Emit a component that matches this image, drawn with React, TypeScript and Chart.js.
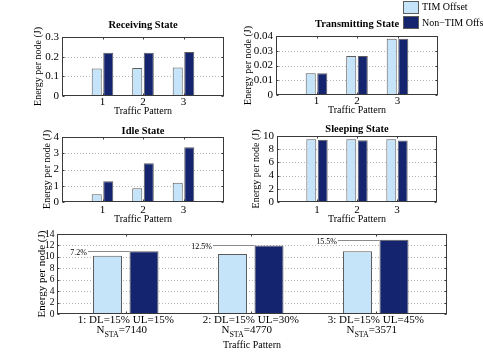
import React, { useEffect, useRef } from "react";
import { Chart, registerables } from "chart.js";
Chart.register(...registerables);

const PATTERNS = [1, 2, 3];
const SERIES = ["TIM Offset", "Non\u2212TIM Offset"];
const RECV_TIM = [0.14, 0.142, 0.145];
const RECV_NON = [0.22, 0.22, 0.224];
const TX_TIM = [0.0148, 0.0265, 0.0382];
const TX_NON = [0.0148, 0.0264, 0.0381];
const IDLE_TIM = [0.47, 0.84, 1.18];
const IDLE_NON = [1.28, 2.39, 3.37];
const SLEEP_TIM = [9.52, 9.52, 9.52];
const SLEEP_NON = [9.45, 9.36, 9.3];
const TOTAL_TIM = [10.2, 10.5, 10.98];
const TOTAL_NON = [11.0, 12.0, 13.0];
const SAVINGS = ["7.2%", "12.5%", "15.5%"];
const TOTAL_LINE1 = ["1: DL=15% UL=15%", "2: DL=15% UL=30%", "3: DL=15% UL=45%"];
const N_STA = ["7140", "4770", "3571"];

const W = 483;
const H = 355;
const FAMILY = "'Liberation Serif', 'Times New Roman', serif";
const LIGHT = "#c6e4f9";
const DARK = "#14246e";
const EDGE = "#5c5c5c";
const AXIS = "#3a3a3a";

type Panel = {
  key: string;
  title: string;
  tim: number[];
  non: number[];
  yMax: number;
  yStep: number;
  box: { l: number; r: number; t: number; b: number };
  ylabelX: number;
  titleY?: number;
  xMin: number;
  xMax: number;
  cp: number;
  bp: number;
  xAxisH: number;
  xTickPad: number;
  xTitlePadB: number;
  showXTicks: boolean;
  yTickSize: number;
  yTitleSize: number;
  yTickPad: number;
  legend?: boolean;
  annotate?: boolean;
};

const SMALL = { xMin: 0, xMax: 4, cp: 0.57, bp: 0.87, showXTicks: true, xTitlePadB: 0, yTickSize: 11, yTitleSize: 10, yTickPad: 3 };

const PANELS: Panel[] = [
  { key: "recv", title: "Receiving State", tim: RECV_TIM, non: RECV_NON, yMax: 0.3, yStep: 0.1,
    box: { l: 62, r: 224, t: 37, b: 96 }, ylabelX: 38, titleY: 25.5, xAxisH: 21, xTickPad: 0, ...SMALL },
  { key: "tx", title: "Transmitting State", tim: TX_TIM, non: TX_NON, yMax: 0.04, yStep: 0.01,
    box: { l: 276, r: 438, t: 36, b: 95 }, ylabelX: 248.5, titleY: 24.5, xAxisH: 21, xTickPad: 0, legend: true, ...SMALL },
  { key: "idle", title: "Idle State", tim: IDLE_TIM, non: IDLE_NON, yMax: 4, yStep: 1,
    box: { l: 62, r: 224, t: 137, b: 202 }, ylabelX: 47.5, titleY: 131, xAxisH: 23, xTickPad: 1.5, ...SMALL },
  { key: "sleep", title: "Sleeping State", tim: SLEEP_TIM, non: SLEEP_NON, yMax: 10, yStep: 2,
    box: { l: 277, r: 437, t: 136, b: 202 }, ylabelX: 256.5, titleY: 129.5, xAxisH: 23, xTickPad: 1.5, ...SMALL },
  { key: "total", title: "", tim: TOTAL_TIM, non: TOTAL_NON, yMax: 14, yStep: 2,
    box: { l: 57, r: 447, t: 234, b: 314 }, ylabelX: 42.5, xMin: 0.45, xMax: 3.57, cp: 0.584, bp: 0.795,
    xAxisH: 41, xTickPad: 0, xTitlePadB: 4, showXTicks: false, yTickSize: 9.5, yTitleSize: 11, yTickPad: 2.5,
    annotate: true },
];

function framePlugin(p: Panel) {
  return {
    id: "frame_" + p.key,
    beforeDatasetsDraw(chart: any) {
      const { ctx, chartArea: a, scales } = chart;
      const y = scales.y;
      ctx.save();
      ctx.strokeStyle = "#b4b4b4";
      ctx.lineWidth = 1;
      ctx.setLineDash([1, 2]);
      y.ticks.forEach((t: any) => {
        if (t.value < 1e-9 || t.value > p.yMax - 1e-9) return;
        const py = Math.round(y.getPixelForValue(t.value)) + 0.5;
        ctx.beginPath();
        ctx.moveTo(a.left, py);
        ctx.lineTo(a.right, py);
        ctx.stroke();
      });
      ctx.restore();
    },
    afterDatasetsDraw(chart: any) {
      const { ctx, chartArea: a, scales } = chart;
      const x = scales.x;
      const y = scales.y;
      const L = Math.round(a.left) + 0.5;
      const R = Math.round(a.right) - 0.5;
      const T = Math.round(a.top) + 0.5;
      const B = Math.round(a.bottom) - 0.5;
      ctx.save();
      if (p.annotate) {
        const m0 = chart.getDatasetMeta(0);
        const m1 = chart.getDatasetMeta(1);
        ctx.font = `8px ${FAMILY}`;
        ctx.fillStyle = "#000";
        ctx.textAlign = "right";
        ctx.textBaseline = "middle";
        PATTERNS.forEach((_, i) => {
          const lb = m0.data[i];
          const db = m1.data[i];
          const lightLeft = lb.x - lb.width / 2;
          const darkLeft = db.x - db.width / 2;
          const yy = Math.round(db.y) + 0.5;
          const tx = lightLeft - 6;
          ctx.fillText(SAVINGS[i], tx, yy + 1);
          ctx.strokeStyle = "#8a8a8a";
          ctx.lineWidth = 1;
          ctx.beginPath();
          ctx.moveTo(tx + 1, yy);
          ctx.lineTo(darkLeft, yy);
          ctx.stroke();
        });
      }
      ctx.strokeStyle = AXIS;
      ctx.lineWidth = 1;
      ctx.strokeRect(L, T, R - L, B - T);
      ctx.beginPath();
      y.ticks.forEach((t: any) => {
        const py = Math.round(y.getPixelForValue(t.value)) + 0.5;
        ctx.moveTo(L, py); ctx.lineTo(L + 2, py);
        ctx.moveTo(R, py); ctx.lineTo(R - 2, py);
      });
      PATTERNS.forEach((v) => {
        const px = Math.round(x.getPixelForValue(v)) + 0.5;
        ctx.moveTo(px, B); ctx.lineTo(px, B - 2);
        ctx.moveTo(px, T); ctx.lineTo(px, T + 2);
      });
      ctx.stroke();
      ctx.restore();
    },
    afterDraw(chart: any) {
      const { ctx, chartArea: a, scales } = chart;
      const x = scales.x;
      ctx.save();
      ctx.fillStyle = "#000";
      if (p.title) {
        ctx.font = `bold 10.5px ${FAMILY}`;
        ctx.textAlign = "center";
        ctx.textBaseline = "middle";
        ctx.fillText(p.title, (a.left + a.right) / 2, p.titleY as number);
      }
      if (p.legend) {
        ctx.lineWidth = 1;
        ctx.strokeStyle = EDGE;
        ctx.fillStyle = LIGHT;
        ctx.fillRect(403.5, 1.5, 15, 12);
        ctx.strokeRect(403.5, 1.5, 15, 12);
        ctx.fillStyle = DARK;
        ctx.fillRect(403.5, 16.5, 15, 12);
        ctx.strokeRect(403.5, 16.5, 15, 12);
        ctx.fillStyle = "#000";
        ctx.font = `10px ${FAMILY}`;
        ctx.textAlign = "left";
        ctx.textBaseline = "middle";
        ctx.fillText(SERIES[0], 422, 7.5);
        ctx.fillText(SERIES[1], 422, 23);
      }
      if (p.annotate) {
        const b = a.bottom;
        PATTERNS.forEach((v, i) => {
          const cx = x.getPixelForValue(v);
          ctx.font = `11px ${FAMILY}`;
          ctx.textAlign = "center";
          ctx.textBaseline = "alphabetic";
          ctx.fillText(TOTAL_LINE1[i], cx, b + 9);
          ctx.textAlign = "left";
          const f11 = `11px ${FAMILY}`;
          const f8 = `8px ${FAMILY}`;
          ctx.font = f11;
          const wN = ctx.measureText("N").width;
          const rest = "=" + N_STA[i];
          const wR = ctx.measureText(rest).width;
          ctx.font = f8;
          const wS = ctx.measureText("STA").width;
          const total = wN + wS + wR;
          let sx = cx - 4 - total / 2;
          ctx.font = f11;
          ctx.fillText("N", sx, b + 19);
          sx += wN;
          ctx.font = f8;
          ctx.fillText("STA", sx, b + 23);
          sx += wS;
          ctx.font = f11;
          ctx.fillText(rest, sx, b + 19);
        });
      }
      ctx.restore();
    },
  };
}

function makeConfig(p: Panel): any {
  const half = (p.yTitleSize * 1.2) / 2;
  const leftPad = p.ylabelX - half - 2;
  const axisW = p.box.l - leftPad;
  return {
    type: "bar",
    data: {
      datasets: [
        {
          label: SERIES[0],
          data: PATTERNS.map((v, i) => ({ x: v, y: p.tim[i] })),
          backgroundColor: LIGHT,
          borderColor: EDGE,
          borderWidth: 1,
          categoryPercentage: p.cp,
          barPercentage: p.bp,
        },
        {
          label: SERIES[1],
          data: PATTERNS.map((v, i) => ({ x: v, y: p.non[i] })),
          backgroundColor: DARK,
          borderColor: EDGE,
          borderWidth: 1,
          categoryPercentage: p.cp,
          barPercentage: p.bp,
        },
      ],
    },
    options: {
      responsive: false,
      animation: false,
      devicePixelRatio: 1,
      events: [],
      layout: {
        padding: {
          left: leftPad,
          top: p.box.t,
          right: W - p.box.r,
          bottom: H - p.box.b - p.xAxisH,
        },
      },
      plugins: {
        legend: { display: false },
        tooltip: { enabled: false },
        title: { display: false },
      },
      scales: {
        x: {
          type: "linear",
          min: p.xMin,
          max: p.xMax,
          offset: false,
          grid: { display: false, drawTicks: false },
          border: { display: false },
          afterBuildTicks: (s: any) => {
            s.ticks = PATTERNS.map((v) => ({ value: v }));
          },
          afterFit: (s: any) => {
            s.height = p.xAxisH;
          },
          ticks: {
            display: p.showXTicks,
            padding: p.xTickPad,
            color: "#000",
            autoSkip: false,
            maxRotation: 0,
            font: { family: FAMILY, size: 11 },
            callback: (v: any) => String(v),
          },
          title: {
            display: true,
            text: "Traffic Pattern",
            color: "#000",
            font: { family: FAMILY, size: 10 },
            padding: { top: 0, bottom: p.xTitlePadB },
          },
        },
        y: {
          min: 0,
          max: p.yMax,
          grid: { display: false, drawTicks: false },
          border: { display: false },
          afterFit: (s: any) => {
            s.width = axisW;
          },
          ticks: {
            stepSize: p.yStep,
            autoSkip: false,
            padding: p.yTickPad,
            color: "#000",
            font: { family: FAMILY, size: p.yTickSize },
          },
          title: {
            display: true,
            text: "Energy per node (J)",
            color: "#000",
            font: { family: FAMILY, size: p.yTitleSize },
            padding: { top: 2, bottom: 0 },
          },
        },
      },
    },
    plugins: [framePlugin(p)],
  };
}

function PanelChart({ p }: { p: Panel }) {
  const ref = useRef<HTMLCanvasElement | null>(null);
  useEffect(() => {
    if (!ref.current) return;
    const chart = new Chart(ref.current, makeConfig(p));
    return () => chart.destroy();
  }, [p]);
  return (
    <canvas
      ref={ref}
      width={W}
      height={H}
      style={{ position: "absolute", left: 0, top: 0, width: W, height: H }}
    />
  );
}

export default function App() {
  return (
    <div
      style={{
        position: "fixed",
        left: 0,
        top: 0,
        width: W,
        height: H,
        background: "#fff",
        overflow: "hidden",
      }}
    >
      {PANELS.map((p) => (
        <PanelChart key={p.key} p={p} />
      ))}
    </div>
  );
}
